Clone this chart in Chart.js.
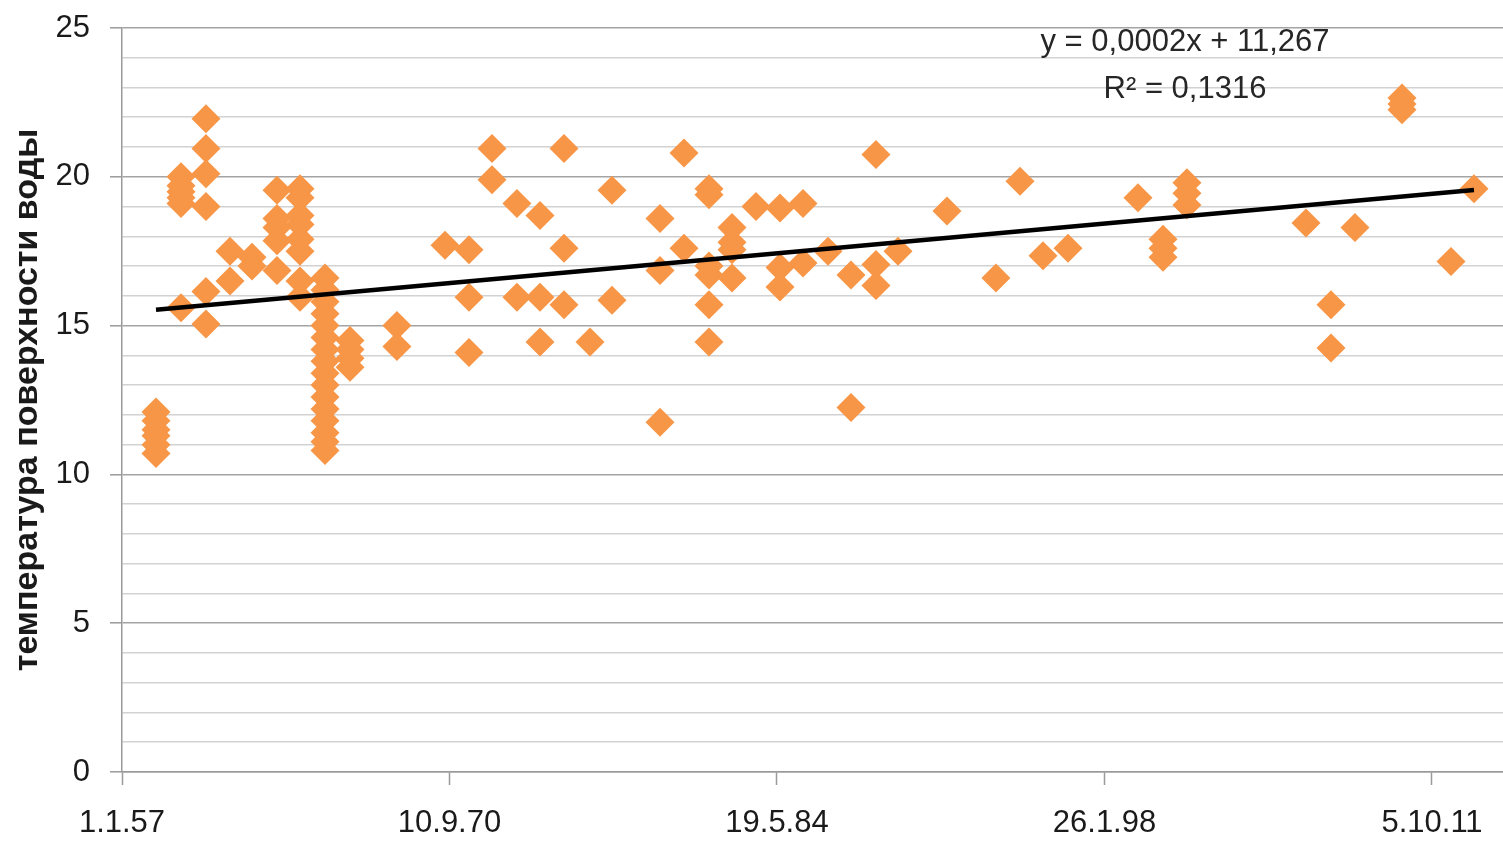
<!DOCTYPE html>
<html>
<head>
<meta charset="utf-8">
<script src="https://cdn.jsdelivr.net/npm/chart.js@4/dist/chart.umd.min.js"></script>
<style>
  html, body { margin: 0; padding: 0; background: #ffffff; }
  #wrap { width: 1503px; height: 841px; }
</style>
</head>
<body>
<div id="wrap"><canvas id="chart" width="1503" height="841"></canvas></div>
<script>
// Dates are spreadsheet day serials (days since 30.12.1899).
const obsDates = [
  21340, 21340, 21340, 21340, 21340, 21340,
  21722, 21722, 21722, 21722, 21722, 21722,
  22103, 22103, 22103, 22103, 22103, 22103,
  22470, 22470, 22806, 22806,
  23187, 23187, 23187, 23187, 23187,
  23539, 23539, 23539, 23539, 23539, 23539, 23539, 23539,
  23920, 23920, 23920, 23920, 23920, 23920, 23920, 23920,
  23920, 23920, 23920, 23920, 23920, 23920, 23920, 23920,
  24302, 24302, 24302, 24302,
  25019, 25019,
  25752,
  26119, 26119, 26119,
  26470, 26470,
  26851, 26851,
  27203, 27203, 27203,
  27569, 27569, 27569,
  27966,
  28302, 28302,
  29035, 29035, 29035,
  29401, 29401,
  29783, 29783, 29783, 29783, 29783, 29783,
  30134, 30134, 30134, 30134,
  30500,
  30867, 30867, 30867,
  31218, 31218,
  31600,
  31951, 31951,
  32332, 32332, 32332,
  32668,
  33416,
  34164,
  34531,
  34882,
  35264,
  36332,
  36714, 36714, 36714,
  37080, 37080, 37080,
  38897,
  39279, 39279,
  39645,
  40363, 40363, 40363,
  41111,
  41462
];

// Surface water temperature, °C
const waterTemp = [
  12.1, 11.8, 11.5, 11.3, 11.0, 10.7,
  20.0, 19.7, 19.5, 19.3, 19.1, 15.6,
  21.95, 20.95, 20.1, 19.0, 16.15, 15.05,
  17.5, 16.5, 17.3, 17.0,
  19.55, 18.6, 18.3, 17.85, 16.85,
  19.6, 19.3, 18.7, 18.4, 17.9, 17.5, 16.5, 15.95,
  16.6, 16.2, 15.8, 15.4, 15.0, 14.6, 14.2, 13.8,
  13.4, 13.0, 12.6, 12.2, 11.8, 11.4, 11.1, 10.8,
  14.5, 14.2, 13.9, 13.6,
  15.0, 14.3,
  17.7,
  17.55, 15.95, 14.1,
  20.95, 19.9,
  19.1, 15.95,
  18.7, 15.95, 14.45,
  20.95, 17.6, 15.7,
  14.45,
  19.55, 15.85,
  18.6, 16.85, 11.75,
  20.8, 17.6,
  19.6, 19.4, 17.0, 16.7, 15.7, 14.45,
  18.3, 17.8, 17.55, 16.6,
  19.0,
  18.95, 16.95, 16.3,
  19.1, 17.1,
  17.5,
  16.7, 12.25,
  20.75, 17.05, 16.35,
  17.5,
  18.85,
  16.6,
  19.85,
  17.35,
  17.6,
  19.3,
  17.9, 17.6, 17.3,
  19.8, 19.45, 19.05,
  18.45,
  15.7, 14.25,
  18.3,
  22.65, 22.45, 22.25,
  17.15,
  19.6
];

// Linear trend: y = 0,0002x + 11,267
const trendSlope = 0.0002;
const trendIntercept = 11.267;
const trendLabel = 'y = 0,0002x + 11,267';
const r2Label = 'R\u00B2 = 0,1316';

const xTickValues = [20821, 25821, 30821, 35821, 40821];
const xTickLabels = ['1.1.57', '10.9.70', '19.5.84', '26.1.98', '5.10.11'];
const xMin = 20821;
const xMax = 41905;

const yTitle = 'температура поверхности воды';

const scatterPoints = obsDates.map((d, i) => ({ x: d, y: waterTemp[i] }));
const trendX0 = Math.min(...obsDates);
const trendX1 = Math.max(...obsDates);
const trendPoints = [trendX0, trendX1].map(x => ({ x: x, y: trendSlope * x + trendIntercept }));

const tickFont = { family: "'Liberation Sans', Arial, sans-serif", size: 31 };

const equationPlugin = {
  id: 'equationText',
  afterDatasetsDraw(chart) {
    const ctx = chart.ctx;
    ctx.save();
    ctx.fillStyle = '#262626';
    ctx.font = "31px 'Liberation Sans', Arial, sans-serif";
    ctx.textAlign = 'center';
    ctx.textBaseline = 'middle';
    ctx.fillText(trendLabel, 1185, 42);
    ctx.fillText(r2Label, 1185, 89);
    ctx.restore();
  }
};

new Chart(document.getElementById('chart'), {
  type: 'scatter',
  data: {
    datasets: [
      {
        type: 'line',
        data: trendPoints,
        borderColor: '#000000',
        borderWidth: 4.5,
        pointRadius: 0,
        fill: false,
        order: 0
      },
      {
        data: scatterPoints,
        pointStyle: 'rectRot',
        pointRadius: 14.5,
        pointHoverRadius: 14.5,
        backgroundColor: '#F79646',
        borderColor: '#F79646',
        borderWidth: 0,
        order: 1
      }
    ]
  },
  options: {
    responsive: false,
    animation: false,
    events: [],
    layout: { autoPadding: false, padding: { top: 28, left: 0, right: 0, bottom: 0 } },
    plugins: { legend: { display: false }, tooltip: { enabled: false } },
    scales: {
      x: {
        type: 'linear',
        min: xMin,
        max: xMax,
        afterBuildTicks(scale) {
          scale.ticks = xTickValues.map(v => ({ value: v }));
        },
        afterFit(scale) {
          scale.height = 69;
          scale.paddingLeft = 0;
          scale.paddingRight = 0;
        },
        ticks: {
          autoSkip: false,
          maxRotation: 0,
          padding: 20,
          color: '#1a1a1a',
          font: tickFont,
          callback: (value, index) => xTickLabels[index]
        },
        grid: {
          drawOnChartArea: false,
          drawTicks: true,
          tickLength: 13,
          tickColor: '#9a9a9a',
          tickWidth: 1.5
        },
        border: { display: true, color: '#9a9a9a', width: 1.5 }
      },
      y: {
        min: 0,
        max: 25,
        afterFit(scale) {
          scale.width = 122;
          scale.paddingTop = 0;
          scale.paddingBottom = 0;
        },
        ticks: {
          stepSize: 1,
          autoSkip: false,
          padding: 20,
          color: '#1a1a1a',
          font: tickFont,
          callback: v => (v % 5 === 0 ? String(v) : '')
        },
        grid: {
          drawTicks: true,
          tickLength: 12,
          color: ctx => (ctx.tick && ctx.tick.value % 5 === 0 ? '#a4a4a4' : '#d2d2d2'),
          lineWidth: 1.6,
          tickColor: ctx => (ctx.tick && ctx.tick.value % 5 === 0 ? '#9a9a9a' : 'rgba(0,0,0,0)'),
          tickWidth: 1.5
        },
        border: { display: true, color: '#9a9a9a', width: 1.5 },
        title: {
          display: true,
          text: yTitle,
          color: '#1a1a1a',
          padding: { top: 7, bottom: 0 },
          font: { family: "'Liberation Sans', Arial, sans-serif", size: 34, weight: 'bold' }
        }
      }
    }
  },
  plugins: [equationPlugin]
});
</script>
</body>
</html>
